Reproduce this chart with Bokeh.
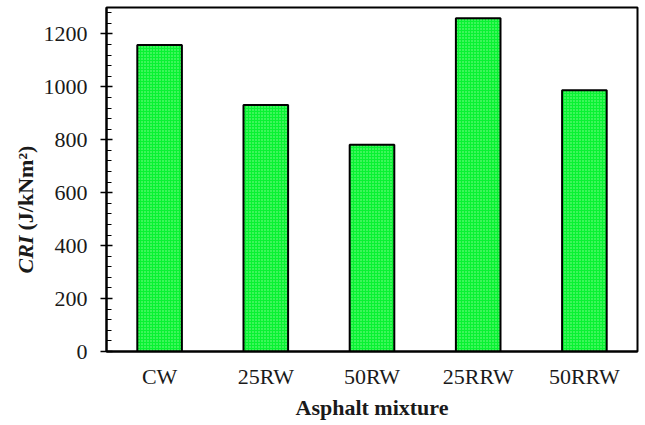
from bokeh.plotting import figure
from bokeh.models import Range1d, FactorRange, Label, SingleIntervalTicker, ColumnDataSource
from bokeh.layouts import row
from bokeh.embed import file_html
from bokeh.resources import INLINE
import math

mixtures = ["CW", "25RW", "50RW", "25RRW", "50RRW"]
cri = [1158, 932, 781, 1259, 987]

H = 422
src = ColumnDataSource(dict(x=mixtures, top=cri))

p = figure(width=602, height=H, x_range=FactorRange(*mixtures, range_padding=0),
           y_range=Range1d(0, 1300), output_backend="svg", toolbar_location=None,
           min_border_left=68, min_border_right=3, min_border_top=7, min_border_bottom=71)

p.vbar(x="x", top="top", width=0.42, source=src, fill_color="#08f232",
       line_color="black", line_width=2,
       hatch_pattern="dot", hatch_color="#c0ffc0", hatch_scale=3, hatch_weight=1, hatch_alpha=0.7)

p.xgrid.visible = False
p.ygrid.visible = False
p.outline_line_color = "black"
p.outline_line_width = 2
p.outline_line_alpha = 1
p.background_fill_color = "white"
p.border_fill_color = "white"

font = "Liberation Serif"
txt = "#1a1a1a"
p.yaxis.ticker = SingleIntervalTicker(interval=200, num_minor_ticks=5)
p.yaxis.major_tick_in = 6
p.yaxis.major_tick_out = 6
p.yaxis.minor_tick_in = 5
p.yaxis.minor_tick_out = 0
p.yaxis.axis_line_width = 2
p.yaxis.major_tick_line_width = 1.5
p.yaxis.major_label_text_font = font
p.yaxis.major_label_text_font_size = "22px"
p.yaxis.major_label_text_color = txt
p.yaxis.major_label_standoff = 13

p.xaxis.major_tick_in = 0
p.xaxis.major_tick_out = 0
p.xaxis.minor_tick_line_color = None
p.xaxis.axis_line_width = 2
p.xaxis.major_label_text_font = font
p.xaxis.major_label_text_font_size = "22px"
p.xaxis.major_label_text_color = txt
p.xaxis.major_label_standoff = 12
p.xaxis.axis_label = "Asphalt mixture"
p.xaxis.axis_label_text_font = font
p.xaxis.axis_label_text_font_style = "bold"
p.xaxis.axis_label_text_font_size = "22px"
p.xaxis.axis_label_text_color = txt
p.xaxis.axis_label_standoff = 3

# narrow panel carrying the y-axis title (its frame is aligned with the main frame)
lab = figure(width=38, height=H, x_range=Range1d(0, 1), y_range=Range1d(0, 1),
             output_backend="svg", toolbar_location=None,
             min_border_left=0, min_border_right=0, min_border_top=0, min_border_bottom=0)
lab.axis.visible = False
lab.grid.visible = False
lab.outline_line_color = None
lab.background_fill_color = "white"
lab.border_fill_color = "white"
lab.add_layout(Label(x=25, y=78, x_units="screen", y_units="screen", text="CRI",
                     angle=math.pi / 2, text_font=font, text_font_style="bold italic",
                     text_font_size="22px", text_color=txt,
                     text_baseline="middle", text_align="left"))
lab.add_layout(Label(x=25, y=121, x_units="screen", y_units="screen", text="(J/kNm²)",
                     angle=math.pi / 2, text_font=font, text_font_style="bold",
                     text_font_size="22px", text_color=txt,
                     text_baseline="middle", text_align="left"))

layout = row(lab, p, spacing=0)
open("out.html", "w").write(file_html(layout, INLINE))
